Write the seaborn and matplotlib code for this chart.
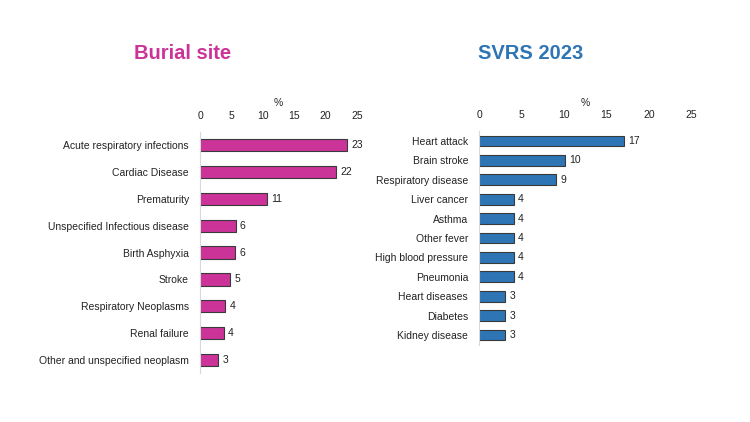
import matplotlib
matplotlib.use("Agg")
import matplotlib.pyplot as plt
import seaborn as sns
import pandas as pd

# Data
burial_causes = ["Acute respiratory infections", "Cardiac Disease", "Prematurity",
                 "Unspecified Infectious disease", "Birth Asphyxia", "Stroke",
                 "Respiratory Neoplasms", "Renal failure", "Other and unspecified neoplasm"]
burial_pct = [23.4, 21.7, 10.6, 5.7, 5.55, 4.85, 4.0, 3.8, 2.9]

svrs_causes = ["Heart attack", "Brain stroke", "Respiratory disease", "Liver cancer",
               "Asthma", "Other fever", "High blood pressure", "Pneumonia",
               "Heart diseases", "Diabetes", "Kidney disease"]
svrs_pct = [17.1, 10.1, 9.1, 4.05, 4.05, 4.05, 4.05, 4.05, 3.05, 3.05, 3.05]

x_ticks = [0, 5, 10, 15, 20, 25]

MAGENTA = "#CC3399"
BLUE = "#2E75B6"

sns.set_theme(style="white")
plt.rcParams['font.family'] = ['Liberation Sans', 'DejaVu Sans']

fig = plt.figure(figsize=(7.5, 4.22), dpi=100)
ax1 = fig.add_axes([0.2667, 0.115, 0.2093, 0.573])
ax2 = fig.add_axes([0.639, 0.183, 0.2827, 0.506])


def draw_panel(ax, causes, values, color, bar_width):
    df = pd.DataFrame({"cause": causes, "pct": values})
    sns.barplot(data=df, x="pct", y="cause", orient="h", color=color,
                edgecolor="#3a3a3a", linewidth=0.8, width=bar_width,
                saturation=1, ax=ax)
    ax.set_xlim(0, 25)
    ax.set_xticks(x_ticks)
    ax.xaxis.tick_top()
    ax.xaxis.set_label_position("top")
    ax.set_xlabel("%", fontsize=7.5, labelpad=3)
    ax.set_ylabel("")
    ax.tick_params(axis="both", length=0, labelsize=7.5, colors="#222222")
    ax.tick_params(axis="x", pad=8)
    ax.tick_params(axis="y", pad=8)
    for s in ["top", "right", "bottom"]:
        ax.spines[s].set_visible(False)
    ax.spines["left"].set_color("#d9d9d9")
    ax.spines["left"].set_linewidth(0.8)
    ax.bar_label(ax.containers[0], labels=[f"{v:.0f}" for v in values],
                 padding=3, fontsize=7.5, color="#222222")


draw_panel(ax1, burial_causes, burial_pct, MAGENTA, 0.46)
draw_panel(ax2, svrs_causes, svrs_pct, BLUE, 0.55)

fig.text(0.244, 0.874, "Burial site", color=MAGENTA, fontsize=14.5,
         fontweight="bold", ha="center", va="center")
fig.text(0.707, 0.874, "SVRS 2023", color=BLUE, fontsize=14.5,
         fontweight="bold", ha="center", va="center")

fig.savefig("out.png", dpi=100)
